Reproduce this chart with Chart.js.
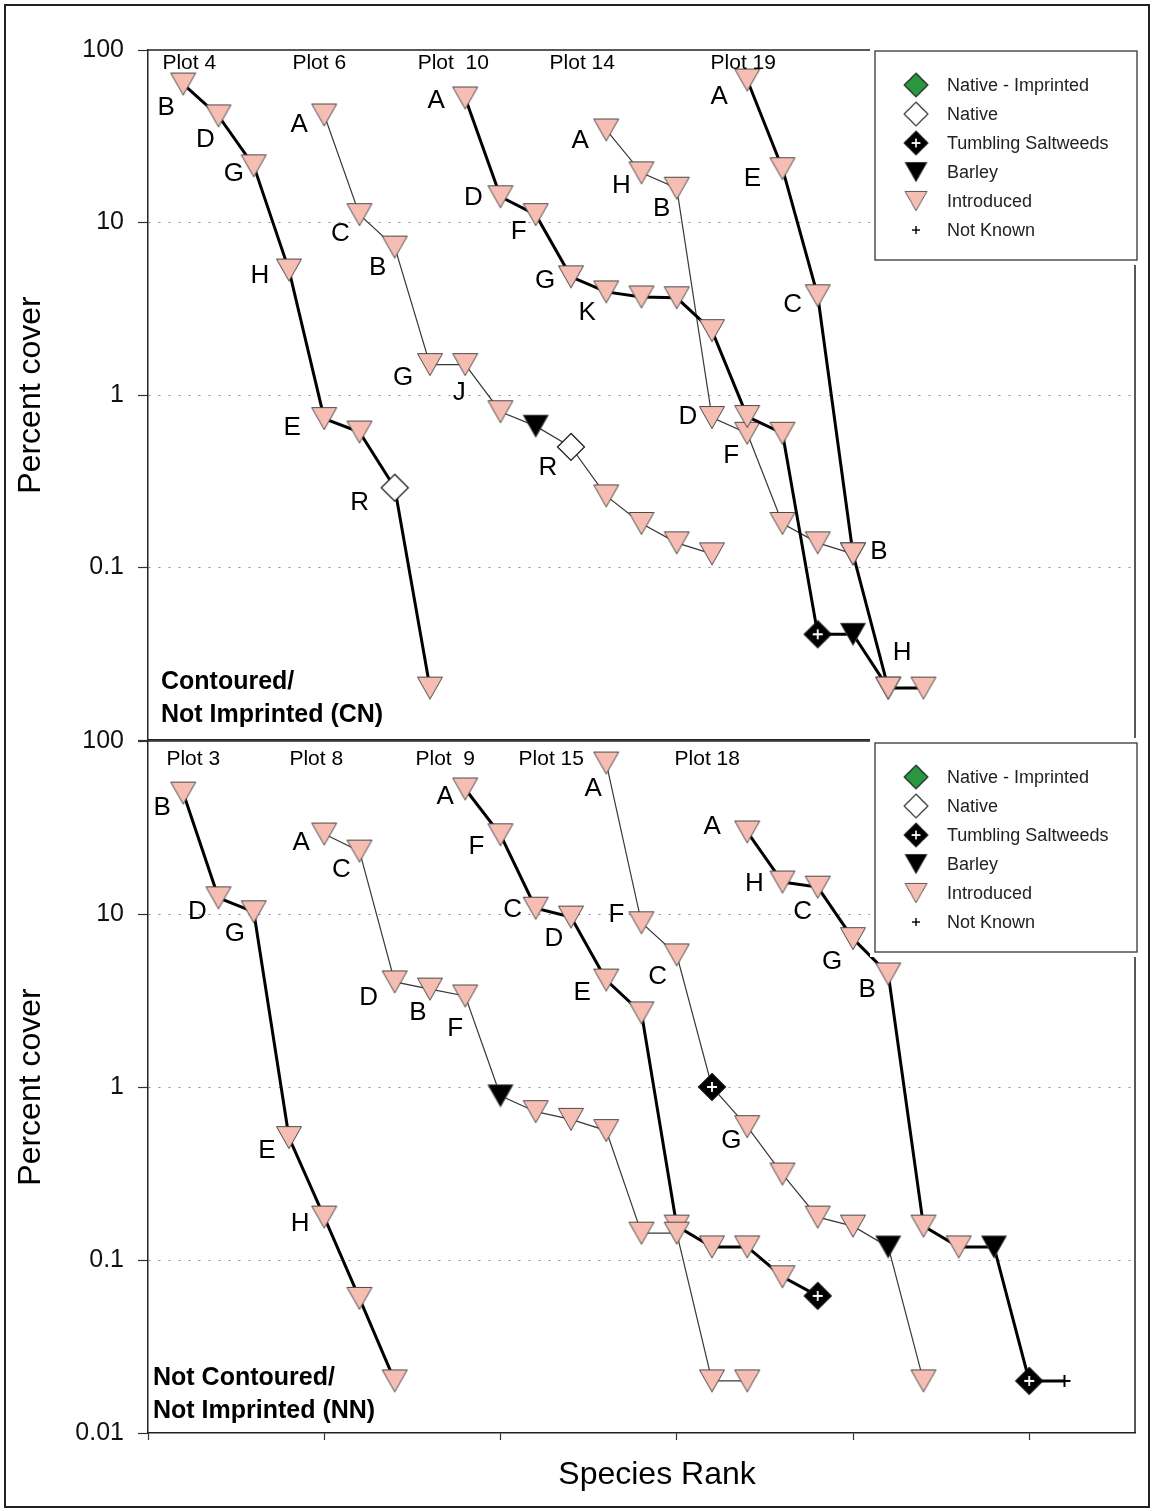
<!DOCTYPE html>
<html>
<head>
<meta charset="utf-8">
<title>Percent cover by species rank</title>
<script src="https://cdn.jsdelivr.net/npm/chart.js@4.4.1/dist/chart.umd.min.js"></script>
<style>
  html, body { margin: 0; padding: 0; background: #fff; }
  #figure { position: relative; width: 1154px; height: 1511px; overflow: hidden; background: #fff; }
  #frame { position: absolute; left: 4px; top: 4px; width: 1146px; height: 1504px; border: 2px solid #222; box-sizing: border-box; }
  .panel { position: absolute; left: 0; width: 1154px; }
  #cn-wrap { top: 0; height: 770px; }
  #nn-wrap { top: 700px; height: 811px; }
</style>
</head>
<body>
<div id="figure">
  <div id="frame"></div>
  <div class="panel" id="cn-wrap"><canvas id="cn-chart"></canvas></div>
  <div class="panel" id="nn-wrap"><canvas id="nn-chart"></canvas></div>
</div>
<script>
/* ── Data ───────────────────────────────────── */
const rankTicks = [0, 5, 10, 15, 20, 25];
const coverTicks = [0.01, 0.1, 1, 10, 100];
const cnTickLabels = ['', '0.1', '1', '10', '100'];
const nnTickLabels = ['0.01', '0.1', '1', '10', '100'];

// kinds: I introduced, N native, G native-imprinted, T tumbling saltweeds, B barley, K not known
const keyKinds = ['G', 'N', 'T', 'B', 'I', 'K'];
const keyLabels = ['Native - Imprinted', 'Native', 'Tumbling Saltweeds', 'Barley', 'Introduced', 'Not Known'];

// Contoured / Not Imprinted (CN)
const cnPlotNames = ['Plot 4', 'Plot 6', 'Plot  10', 'Plot 14', 'Plot 19'];
const cnStartRank = [1, 5, 9, 13, 17];

const plot4Cover = [63.5, 41.5, 21.3, 5.3, 0.73, 0.61, 0.29, 0.020];
const plot4Kind = ['I', 'I', 'I', 'I', 'I', 'I', 'N', 'I'];
const plot4Species = ['B', 'D', 'G', 'H', 'E', '', 'R', ''];

const plot6Cover = [42, 11.1, 7.2, 1.5, 1.5, 0.80, 0.66, 0.50, 0.26, 0.18, 0.139, 0.120];
const plot6Kind = ['I', 'I', 'I', 'I', 'I', 'I', 'B', 'N', 'I', 'I', 'I', 'I'];
const plot6Species = ['A', 'C', 'B', 'G', 'J', '', '', 'R', '', '', '', ''];

const plot10Cover = [52.7, 14.1, 11.1, 4.84, 3.96, 3.7, 3.66, 2.36, 0.75, 0.60, 0.041, 0.041, 0.020];
const plot10Kind = ['I', 'I', 'I', 'I', 'I', 'I', 'I', 'I', 'I', 'I', 'T', 'B', 'I'];
const plot10Species = ['A', 'D', 'F', 'G', 'K', '', '', '', '', '', '', '', ''];

const plot14Cover = [34.4, 19.4, 15.8, 0.74, 0.60, 0.18, 0.139, 0.12];
const plot14Kind = ['I', 'I', 'I', 'I', 'I', 'I', 'I', 'I'];
const plot14Species = ['A', 'H', 'B', 'D', 'F', '', '', ''];

const plot19Cover = [67, 20.5, 3.76, 0.12, 0.020, 0.020];
const plot19Kind = ['I', 'I', 'I', 'I', 'I', 'I'];
const plot19Species = ['A', 'E', 'C', 'B', 'H', ''];

// Not Contoured / Not Imprinted (NN)
const nnPlotNames = ['Plot 3', 'Plot 8', 'Plot  9', 'Plot 15', 'Plot 18'];
const nnStartRank = [1, 5, 9, 13, 17];

const plot3Cover = [50, 12.4, 10.3, 0.51, 0.177, 0.060, 0.020];
const plot3Kind = ['I', 'I', 'I', 'I', 'I', 'I', 'I'];
const plot3Species = ['B', 'D', 'G', 'E', 'H', '', ''];

const plot8Cover = [29, 23.1, 4.05, 3.68, 3.36, 0.89, 0.72, 0.65, 0.56, 0.143, 0.143, 0.020, 0.020];
const plot8Kind = ['I', 'I', 'I', 'I', 'I', 'B', 'I', 'I', 'I', 'I', 'I', 'I', 'I'];
const plot8Species = ['A', 'C', 'D', 'B', 'F', '', '', '', '', '', '', '', ''];

const plot9Cover = [52.8, 28.7, 10.8, 9.6, 4.15, 2.68, 0.157, 0.119, 0.119, 0.080, 0.062];
const plot9Kind = ['I', 'I', 'I', 'I', 'I', 'I', 'I', 'I', 'I', 'I', 'T'];
const plot9Species = ['A', 'F', 'C', 'D', 'E', '', '', '', '', '', ''];

const plot15Cover = [74.6, 8.9, 5.8, 1.0, 0.59, 0.314, 0.177, 0.157, 0.119, 0.020];
const plot15Kind = ['I', 'I', 'I', 'T', 'I', 'I', 'I', 'I', 'B', 'I'];
const plot15Species = ['A', 'F', 'C', '', 'G', '', '', '', '', ''];

const plot18Cover = [29.8, 15.3, 14.3, 7.2, 4.5, 0.157, 0.119, 0.119, 0.020, 0.020];
const plot18Kind = ['I', 'I', 'I', 'I', 'I', 'I', 'I', 'B', 'T', 'K'];
const plot18Species = ['A', 'H', 'C', 'G', 'B', '', '', '', '', ''];

/* ── Layout (label offsets in px, line weights) ── */
const plot4Nudge = [[-17, 24], [-13, 24], [-20, 8], [-29, 6], [-32, 9], null, [-35, 15], null];
const plot6Nudge = [[-25, 10], [-19, 19], [-17, 21], [-27, 13], [-6, 28], null, null, [-23, 21]];
const plot10Nudge = [[-29, 3], [-27, 1], [-17, 17], [-26, 4], [-19, 21]];
const plot14Nudge = [[-26, 11], [-20, 13], [-15, 21], [-24, -1], [-16, 23]];
const plot19Nudge = [[-28, 17], [-30, 10], [-25, 9], [26, -2], [14, -35]];
const plot3Nudge = [[-21, 15], [-21, 14], [-19, 22], [-22, 13], [-24, 7]];
const plot8Nudge = [[-23, 9], [-18, 19], [-26, 16], [-12, 24], [-10, 33]];
const plot9Nudge = [[-20, 8], [-24, 12], [-23, 2], [-17, 22], [-24, 13]];
const plot15Nudge = [[-13, 26], [-25, -8], [-19, 22], null, [-16, 14]];
const plot18Nudge = [[-35, -5], [-28, 2], [-15, 25], [-21, 23], [-21, 16]];

const cnTitleDx = [6, -5, -12, -24, -4];
const nnTitleDx = [10, -8, -20, -55, -40];
const cnThick = [true, false, true, false, true];
const nnThick = [true, false, true, false, true];

const FONT = "'Liberation Sans', Arial, Helvetica, sans-serif";
Chart.defaults.font.family = FONT;
Chart.defaults.color = '#000';

// ── Marker images ─────────────────────────────
const PINK = '#f6bdb3';
function markerCanvas(w, h, draw) {
  const c = document.createElement('canvas');
  c.width = w;
  c.height = h;
  draw(c.getContext('2d'));
  return c;
}
function downTriangle(fill) {
  return markerCanvas(28, 25, g => {
    g.beginPath();
    g.moveTo(1.5, 1.5); g.lineTo(26.5, 1.5); g.lineTo(14, 23.5); g.closePath();
    g.fillStyle = fill; g.fill();
    g.strokeStyle = '#4a4a4a'; g.lineWidth = 1; g.stroke();
  });
}
function diamond(fill, plus) {
  return markerCanvas(30, 30, g => {
    g.beginPath();
    g.moveTo(15, 1.5); g.lineTo(28.5, 15); g.lineTo(15, 28.5); g.lineTo(1.5, 15); g.closePath();
    g.fillStyle = fill; g.fill();
    g.strokeStyle = '#111'; g.lineWidth = 1.2; g.stroke();
    if (plus) {
      g.strokeStyle = '#fff'; g.lineWidth = 1.8;
      g.beginPath();
      g.moveTo(15, 10); g.lineTo(15, 20); g.moveTo(10, 15); g.lineTo(20, 15);
      g.stroke();
    }
  });
}
const markers = {
  I: downTriangle(PINK),
  B: downTriangle('#000'),
  N: diamond('#fff', false),
  G: diamond('#2a9640', false),
  T: diamond('#000', true),
  K: markerCanvas(14, 14, g => {
    g.strokeStyle = '#000'; g.lineWidth = 2;
    g.beginPath(); g.moveTo(7, 1); g.lineTo(7, 13); g.moveTo(1, 7); g.lineTo(13, 7); g.stroke();
  })
};

// ── Series tables ─────────────────────────────
function series(names, starts, covers, kinds, species, nudges, titleDx, thick) {
  return names.map((name, i) => ({
    name, start: starts[i], cover: covers[i], kind: kinds[i],
    species: species[i], nudge: nudges[i], titleDx: titleDx[i], thick: thick[i]
  }));
}
const cnSeries = series(cnPlotNames, cnStartRank,
  [plot4Cover, plot6Cover, plot10Cover, plot14Cover, plot19Cover],
  [plot4Kind, plot6Kind, plot10Kind, plot14Kind, plot19Kind],
  [plot4Species, plot6Species, plot10Species, plot14Species, plot19Species],
  [plot4Nudge, plot6Nudge, plot10Nudge, plot14Nudge, plot19Nudge],
  cnTitleDx, cnThick);
const nnSeries = series(nnPlotNames, nnStartRank,
  [plot3Cover, plot8Cover, plot9Cover, plot15Cover, plot18Cover],
  [plot3Kind, plot8Kind, plot9Kind, plot15Kind, plot18Kind],
  [plot3Species, plot8Species, plot9Species, plot15Species, plot18Species],
  [plot3Nudge, plot8Nudge, plot9Nudge, plot15Nudge, plot18Nudge],
  nnTitleDx, nnThick);

// ── Decoration plugin: frame, letters, plot names, caption, key ──
const panelDecor = {
  id: 'panelDecor',
  afterDatasetsDraw(chart, args, o) {
    const { ctx, chartArea: a, scales: { x, y } } = chart;
    ctx.save();

    // top + right frame
    ctx.strokeStyle = '#222';
    ctx.lineWidth = 1.5;
    ctx.beginPath();
    ctx.moveTo(a.left, a.top); ctx.lineTo(a.right, a.top); ctx.lineTo(a.right, a.bottom);
    ctx.stroke();

    ctx.fillStyle = '#000';
    ctx.textAlign = 'center';
    ctx.textBaseline = 'middle';
    o.series.forEach(s => {
      ctx.font = `26px ${FONT}`;
      s.species.forEach((sp, i) => {
        if (!sp || !s.nudge[i]) return;
        const [dx, dy] = s.nudge[i];
        ctx.fillText(sp, x.getPixelForValue(s.start + i) + dx, y.getPixelForValue(s.cover[i]) + dy);
      });
      ctx.font = `21px ${FONT}`;
      ctx.fillText(s.name, x.getPixelForValue(s.start) + s.titleDx, a.top + o.titleDy);
    });

    // x axis title (sits right of centre in the original)
    if (o.xTitle) {
      ctx.font = `32px ${FONT}`;
      ctx.fillText(o.xTitle, 657, a.bottom + 42);
    }

    // panel caption
    ctx.font = `bold 25px ${FONT}`;
    ctx.textAlign = 'left';
    o.caption.forEach((line, i) => {
      ctx.fillText(line, a.left + o.captionDx, a.bottom - o.captionDy + i * 33);
    });

    // key
    const bx = 875, by = a.top + o.keyDy, bw = 262, bh = 209;
    ctx.fillStyle = '#fff';
    ctx.fillRect(bx - 5, by - 5, bw + 12, bh + 10);
    ctx.strokeStyle = '#444';
    ctx.lineWidth = 1.4;
    ctx.strokeRect(bx, by, bw, bh);
    ctx.font = `18px ${FONT}`;
    ctx.fillStyle = '#222';
    keyKinds.forEach((k, i) => {
      const cy = by + 34 + i * 29;
      const img = markers[k];
      const sc = k === 'K' ? 0.65 : 0.88;
      ctx.drawImage(img, bx + 41 - img.width * sc / 2, cy - img.height * sc / 2, img.width * sc, img.height * sc);
      ctx.fillText(keyLabels[i], bx + 72, cy + 1);
    });
    ctx.restore();
  }
};

// ── Build a panel ─────────────────────────────
function buildPanel(canvasId, list, cfg) {
  const datasets = list.map(s => ({
    label: s.name,
    data: s.cover.map((v, i) => ({ x: s.start + i, y: v })),
    showLine: true,
    borderColor: s.thick ? '#000' : '#383838',
    borderWidth: s.thick ? 3 : 1.2,
    pointStyle: c => markers[s.kind[c.dataIndex]],
    pointRadius: 12,
    pointHoverRadius: 12,
    tension: 0
  }));

  return new Chart(document.getElementById(canvasId), {
    type: 'scatter',
    data: { datasets },
    plugins: [panelDecor],
    options: {
      responsive: true,
      maintainAspectRatio: false,
      animation: false,
      events: [],
      layout: { padding: { left: 0, right: 19, top: cfg.padTop, bottom: 0 } },
      plugins: {
        legend: { display: false },
        tooltip: { enabled: false },
        panelDecor: {
          series: list, titleDy: cfg.titleDy, caption: cfg.caption, xTitle: cfg.xTitle,
          captionDx: cfg.captionDx, captionDy: cfg.captionDy, keyDy: cfg.keyDy
        }
      },
      scales: {
        x: {
          type: 'linear', min: 0, max: 28,
          afterBuildTicks: sc => { sc.ticks = rankTicks.map(v => ({ value: v })); },
          afterFit: sc => { sc.height = cfg.xHeight; },
          ticks: { display: false },
          grid: { drawOnChartArea: false, drawTicks: cfg.xTicks, tickLength: 7, tickColor: '#333', tickWidth: 1.2 },
          border: { display: true, color: '#222', width: 1.5 }
        },
        y: {
          type: 'logarithmic', min: 0.01, max: 100,
          afterBuildTicks: sc => { sc.ticks = coverTicks.map(v => ({ value: v })); },
          afterFit: sc => { sc.width = 148; },
          ticks: {
            autoSkip: false, padding: 14, font: { size: 25 }, color: '#111',
            callback: (v, i) => cfg.tickLabels[i]
          },
          grid: {
            color: c => (c.tick && (c.tick.value === 100 || c.tick.value === 0.01)) ? 'rgba(0,0,0,0)' : '#8c8c8c',
            lineWidth: 1, tickLength: 10, tickColor: '#333', tickWidth: 1.2
          },
          border: { display: true, color: '#222', width: 1.5, dash: [2, 8] },
          title: { display: true, text: 'Percent cover', font: { size: 32 }, padding: { top: 12, bottom: 0 } }
        }
      }
    }
  });
}

// ── Init ──────────────────────────────────────
buildPanel('cn-chart', cnSeries, {
  padTop: 50, xHeight: 30, xTicks: false, tickLabels: cnTickLabels, titleDy: 13, xTitle: '',
  caption: ['Contoured/', 'Not Imprinted (CN)'], captionDx: 13, captionDy: 58, keyDy: 1
});
buildPanel('nn-chart', nnSeries, {
  padTop: 41, xHeight: 78, xTicks: true, tickLabels: nnTickLabels, titleDy: 18, xTitle: 'Species Rank',
  caption: ['Not Contoured/', 'Not Imprinted (NN)'], captionDx: 5, captionDy: 55, keyDy: 2
});
</script>
</body>
</html>
